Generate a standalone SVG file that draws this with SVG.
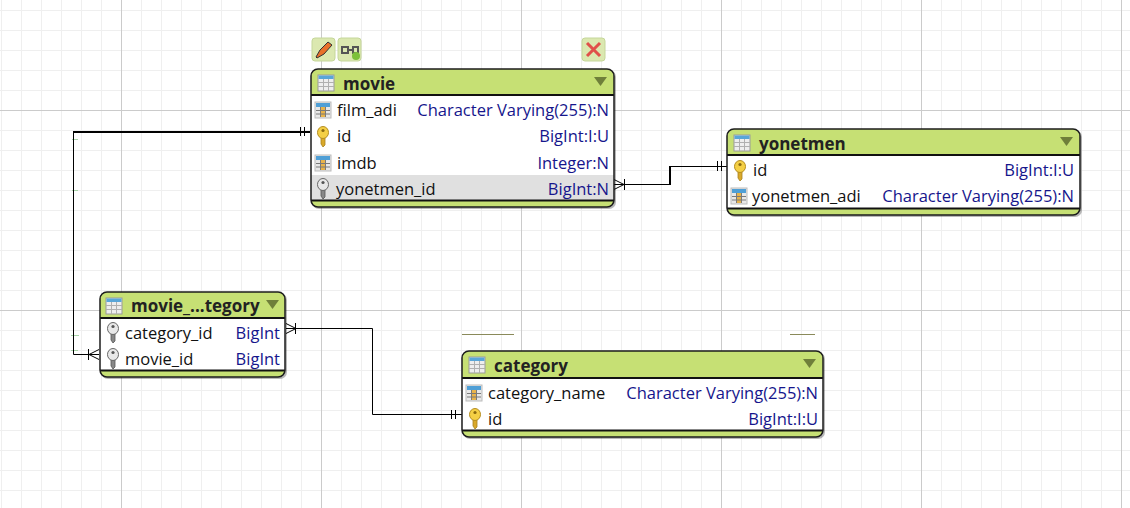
<svg xmlns="http://www.w3.org/2000/svg" width="1130" height="508" viewBox="0 0 1130 508">
<style>
text{font-family:"Open Sans","Noto Sans","Liberation Sans",sans-serif;font-size:16.5px;fill:#111}
.t{font-weight:700;font-size:17px;fill:#222}
.ty{fill:#16168c;text-anchor:end}
.box{fill:#fff;stroke:none}
.hd{fill:#c6e074}
.sh{fill:#000;opacity:.28}
.ol{fill:none;stroke:#1c1c1c;stroke-width:1.5}
.sep{stroke:#111;stroke-width:2}
.g1{stroke:#efefef;stroke-width:1}
.g2{stroke:#cbcbcb;stroke-width:1}
.c{fill:none;stroke:#000;stroke-width:1}
.c2{fill:none;stroke:#000;stroke-width:2}
.tick{stroke:#000;stroke-width:1;fill:none}
.btn{fill:#dbe8b0;stroke:#c5d69a;stroke-width:1}
</style>
<defs>
<g id="tbl"><rect x="0" y="0" width="16" height="16" fill="#eee" stroke="#999"/><rect x="0.5" y="0.5" width="15" height="3.5" fill="#5aa6d8"/><path d="M0 7.500H16M0 11.500H16M5.500 4V16M10.500 4V16" stroke="#b0b0b0" fill="none"/></g>
<g id="col"><rect x="0" y="0" width="16" height="16" fill="#e8e8e8" stroke="#bbb"/><rect x="1" y="1" width="14" height="4" fill="#4f9fd6"/><rect x="6" y="5" width="4" height="10" fill="#e8b34a"/><path d="M1 8.500H15M1 12H15M5.500 5V15M10.500 5V15" stroke="#7a7a7a" fill="none"/></g>
<g id="key"><path d="M-2 9V17L0 20L2 18V9Z" fill="#d9a92a" stroke="#a8811e" stroke-width=".8"/><ellipse cx="0" cy="5.500" rx="5.500" ry="6" fill="#f4cf45" stroke="#b58d20"/><circle cx="0" cy="3.500" r="1.600" fill="#8a6a10"/></g>
<g id="fkey"><path d="M-2 9V17L0 20L2 18V9Z" fill="#888" stroke="#555" stroke-width=".8"/><ellipse cx="0" cy="5.500" rx="5.500" ry="6" fill="#e8e8e8" stroke="#666"/><circle cx="0" cy="3.500" r="1.600" fill="#555"/></g>
<path id="arr" d="M0 0H13L6.500 9Z" fill="#6f7f3a"/>
</defs>
<rect width="1130" height="508" fill="#fff"/>
<g id="grid">
<path class="g1" d="M1.500 0V508M21.500 0V508M41.500 0V508M61.500 0V508M81.500 0V508M101.500 0V508M141.500 0V508M161.500 0V508M181.500 0V508M201.500 0V508M221.500 0V508M241.500 0V508M261.500 0V508M281.500 0V508M301.500 0V508M341.500 0V508M361.500 0V508M381.500 0V508M401.500 0V508M421.500 0V508M441.500 0V508M461.500 0V508M481.500 0V508M501.500 0V508M541.500 0V508M561.500 0V508M581.500 0V508M601.500 0V508M621.500 0V508M641.500 0V508M661.500 0V508M681.500 0V508M701.500 0V508M741.500 0V508M761.500 0V508M781.500 0V508M801.500 0V508M821.500 0V508M841.500 0V508M861.500 0V508M881.500 0V508M901.500 0V508M941.500 0V508M961.500 0V508M981.500 0V508M1001.500 0V508M1021.500 0V508M1041.500 0V508M1061.500 0V508M1081.500 0V508M1101.500 0V508"/>
<path class="g1" d="M0 10.500H1130M0 30.500H1130M0 50.500H1130M0 70.500H1130M0 90.500H1130M0 130.500H1130M0 150.500H1130M0 170.500H1130M0 190.500H1130M0 210.500H1130M0 230.500H1130M0 250.500H1130M0 270.500H1130M0 290.500H1130M0 330.500H1130M0 350.500H1130M0 370.500H1130M0 390.500H1130M0 410.500H1130M0 430.500H1130M0 450.500H1130M0 470.500H1130M0 490.500H1130"/>
<path class="g2" d="M121.500 0V508M321.500 0V508M521.500 0V508M721.500 0V508M921.500 0V508M1121.500 0V508M0 110.500H1130M0 310.500H1130"/>
<path d="M462 334.500H514M790 334.500H815" stroke="#8a8a5a" stroke-width="1"/>
<path d="M72 139.500H78M72 190.500H78M71 335.500H79M71 350.500H78" stroke="#a9d3a9" stroke-width="1"/>
</g>
<g id="connectors">
<path class="c2" d="M310 132H73"/>
<path class="c" d="M73.500 131V354.500H99"/>
<path class="tick" d="M300.500 127V136M304.500 127V136M89 354.500L99 349.500M89 354.500L99 359.500M88.500 349V360"/>
<path class="c" d="M614 184.500H670M670 166.500H727"/>
<path class="c2" d="M670 185V166"/>
<path class="tick" d="M717.500 161V171M721.500 161V171M614 179.500L624 184.500L614 189.500M624.500 179V190"/>
<path class="c" d="M286 328.500H372.500V414.500H462"/>
<path class="tick" d="M451.500 410V419M455.500 410V419M286 323.500L296 328.500L286 333.500M295.500 323V334"/>
</g>
<g id="movie">
<rect class="sh" x="312" y="70" width="304" height="139" rx="7"/>
<rect class="hd" x="311" y="69" width="303" height="138" rx="7"/>
<rect class="box" x="311" y="95" width="303" height="106"/>
<rect x="311" y="175" width="303" height="26" fill="#e0e0e0"/>
<path class="sep" d="M311 95H614M311 200.500H614"/>
<rect class="ol" x="311" y="69" width="303" height="138" rx="7"/>
<use href="#tbl" x="318" y="75"/><text class="t" x="343" y="90">movie</text><use href="#arr" x="594" y="77"/>
<use href="#col" x="315" y="102"/><text x="337" y="116">film_adi</text><text class="ty" x="609" y="116">Character Varying(255):N</text>
<use href="#key" x="323" y="127"/><text x="337" y="142">id</text><text class="ty" x="609" y="142">BigInt:I:U</text>
<use href="#col" x="315" y="155"/><text x="337" y="169">imdb</text><text class="ty" x="609" y="169">Integer:N</text>
<use href="#fkey" x="323" y="179"/><text x="336" y="195">yonetmen_id</text><text class="ty" x="609" y="195">BigInt:N</text>
</g>
<g id="movie-tools">
<rect class="btn" x="312" y="38" width="23" height="23" rx="3"/>
<path d="M316 57L320 50L328 42L332 45L324 54L317 58Z" fill="#e8702a" stroke="#333"/>
<rect class="btn" x="338" y="38" width="23" height="23" rx="3"/>
<path d="M342 47H348V53H342ZM353 47H358V53H353ZM348 50H353" fill="none" stroke="#555" stroke-width="2"/><circle cx="356" cy="56" r="4" fill="#7cc13a"/>
<rect class="btn" x="582" y="38" width="23" height="23" rx="3"/>
<path d="M587 43L600 56M600 43L587 56" stroke="#e0504a" stroke-width="3"/>
</g>
<g id="yonetmen">
<rect class="sh" x="728" y="130" width="354" height="87" rx="7"/>
<rect class="hd" x="727" y="129" width="353" height="86" rx="7"/>
<rect class="box" x="727" y="155" width="353" height="53"/>
<path class="sep" d="M727 155H1080M727 208.500H1080"/>
<rect class="ol" x="727" y="129" width="353" height="86" rx="7"/>
<use href="#tbl" x="734" y="135"/><text class="t" x="759" y="150">yonetmen</text><use href="#arr" x="1060" y="137"/>
<use href="#key" x="740" y="161"/><text x="753" y="176">id</text><text class="ty" x="1074" y="176">BigInt:I:U</text>
<use href="#col" x="731" y="188"/><text x="752" y="202">yonetmen_adi</text><text class="ty" x="1074" y="202">Character Varying(255):N</text>
</g>
<g id="movie_category">
<rect class="sh" x="101" y="293" width="186" height="86" rx="7"/>
<rect class="hd" x="100" y="292" width="185" height="85" rx="7"/>
<rect class="box" x="100" y="318" width="185" height="53"/>
<path class="sep" d="M100 318H285M100 370.500H285"/>
<rect class="ol" x="100" y="292" width="185" height="85" rx="7"/>
<use href="#tbl" x="106" y="298"/><text class="t" x="131" y="312">movie_...tegory</text><use href="#arr" x="266" y="300"/>
<use href="#fkey" x="113" y="323"/><text x="125" y="339">category_id</text><text class="ty" x="280" y="339">BigInt</text>
<use href="#fkey" x="113" y="349"/><text x="125" y="365">movie_id</text><text class="ty" x="280" y="365">BigInt</text>
</g>
<g id="category">
<rect class="sh" x="463" y="352" width="362" height="87" rx="7"/>
<rect class="hd" x="462" y="351" width="361" height="86" rx="7"/>
<rect class="box" x="462" y="378" width="361" height="52"/>
<path class="sep" d="M462 378H823M462 430.500H823"/>
<rect class="ol" x="462" y="351" width="361" height="86" rx="7"/>
<use href="#tbl" x="469" y="357"/><text class="t" x="494" y="372">category</text><use href="#arr" x="803" y="359"/>
<use href="#col" x="466" y="385"/><text x="488" y="399">category_name</text><text class="ty" x="818" y="399">Character Varying(255):N</text>
<use href="#key" x="475" y="409"/><text x="488" y="425">id</text><text class="ty" x="818" y="425">BigInt:I:U</text>
</g>
</svg>
